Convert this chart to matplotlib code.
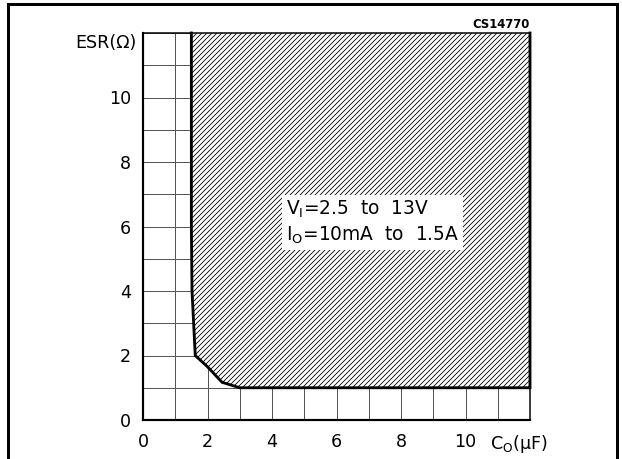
import matplotlib
matplotlib.use("Agg")
import matplotlib.pyplot as plt
from matplotlib.lines import Line2D
from matplotlib.patches import Polygon

# ---- data ----
x_ticks = [0, 2, 4, 6, 8, 10]
y_ticks = [0, 2, 4, 6, 8, 10]
x_max = 12
y_max = 12
# stable-region boundary (Co in uF, ESR in ohm)
boundary_x = [1.5, 1.5, 1.52, 1.62, 2.0, 2.45, 3.0, 12.0, 12.0]
boundary_y = [12.0, 6.0, 4.0, 2.0, 1.65, 1.17, 1.0, 1.0, 12.0]
x_label = "C$_\\mathregular{O}$(μF)"
y_label = "ESR(Ω)"
note_lines = ["V$_\\mathregular{I}$=2.5  to  13V", "I$_\\mathregular{O}$=10mA  to  1.5A"]
code_label = "CS14770"

plt.rcParams['font.family'] = ['DejaVu Sans']
plt.rcParams['mathtext.default'] = 'regular'
plt.rcParams['hatch.linewidth'] = 0.5

DPI = 120
fig = plt.figure(figsize=(622 / DPI, 459 / DPI), dpi=DPI)
ax = fig.add_axes([143 / 622, 1 - 420 / 459, (530 - 143) / 622, (420 - 33) / 459])

ax.set_xlim(0, x_max)
ax.set_ylim(0, y_max)

# grid
ax.set_xticks(range(0, x_max + 1), minor=True)
ax.set_yticks(range(0, y_max + 1), minor=True)
ax.grid(which='minor', color='#555555', linewidth=0.6)
ax.grid(which='major', color='#555555', linewidth=0.6)
ax.set_axisbelow(True)

ax.set_xticks(x_ticks)
ax.set_yticks(y_ticks)
ax.set_xticklabels([str(v) for v in x_ticks], fontsize=10.5)
ax.set_yticklabels([str(v) for v in y_ticks], fontsize=10.5)
ax.tick_params(which='both', length=0)
ax.tick_params(axis='x', pad=8)
ax.tick_params(axis='y', pad=7)

for side in ['left', 'bottom']:
    ax.spines[side].set_linewidth(1.3)
ax.spines['top'].set_linewidth(0.9)
ax.spines['right'].set_linewidth(0.9)

# hatched stable region
poly = Polygon(list(zip(boundary_x, boundary_y)), closed=True, facecolor='white',
               edgecolor='black', hatch='////////', linewidth=0, zorder=2)
ax.add_patch(poly)
ax.plot(boundary_x, boundary_y, color='black', linewidth=1.7, zorder=3,
        solid_joinstyle='miter', clip_on=False)

# note box
ax.text(4.42, 6.12, "\n".join(note_lines), fontsize=11.2, ha='left', va='center',
        linespacing=1.3, zorder=4,
        bbox=dict(facecolor='white', edgecolor='none', boxstyle='square,pad=0.2'))

# labels
ax.text(-0.2, 11.7, y_label, fontsize=10.5, ha='right', va='center', transform=ax.transData)
ax.text(10.75, -0.75, x_label, fontsize=10.5, ha='left', va='center', clip_on=False)
ax.text(12.0, 12.05, code_label, fontsize=7, fontweight='semibold', ha='right', va='bottom')

# outer frame
lw = 1.8
fig.add_artist(Line2D([8 / 622, 8 / 622], [0, 1 - 4 / 459], color='black', linewidth=lw))
fig.add_artist(Line2D([617 / 622, 617 / 622], [0, 1 - 4 / 459], color='black', linewidth=lw))
fig.add_artist(Line2D([8 / 622, 617 / 622], [1 - 4 / 459, 1 - 4 / 459], color='black', linewidth=lw,
                      solid_capstyle='projecting'))

fig.savefig("out.png", dpi=DPI)
